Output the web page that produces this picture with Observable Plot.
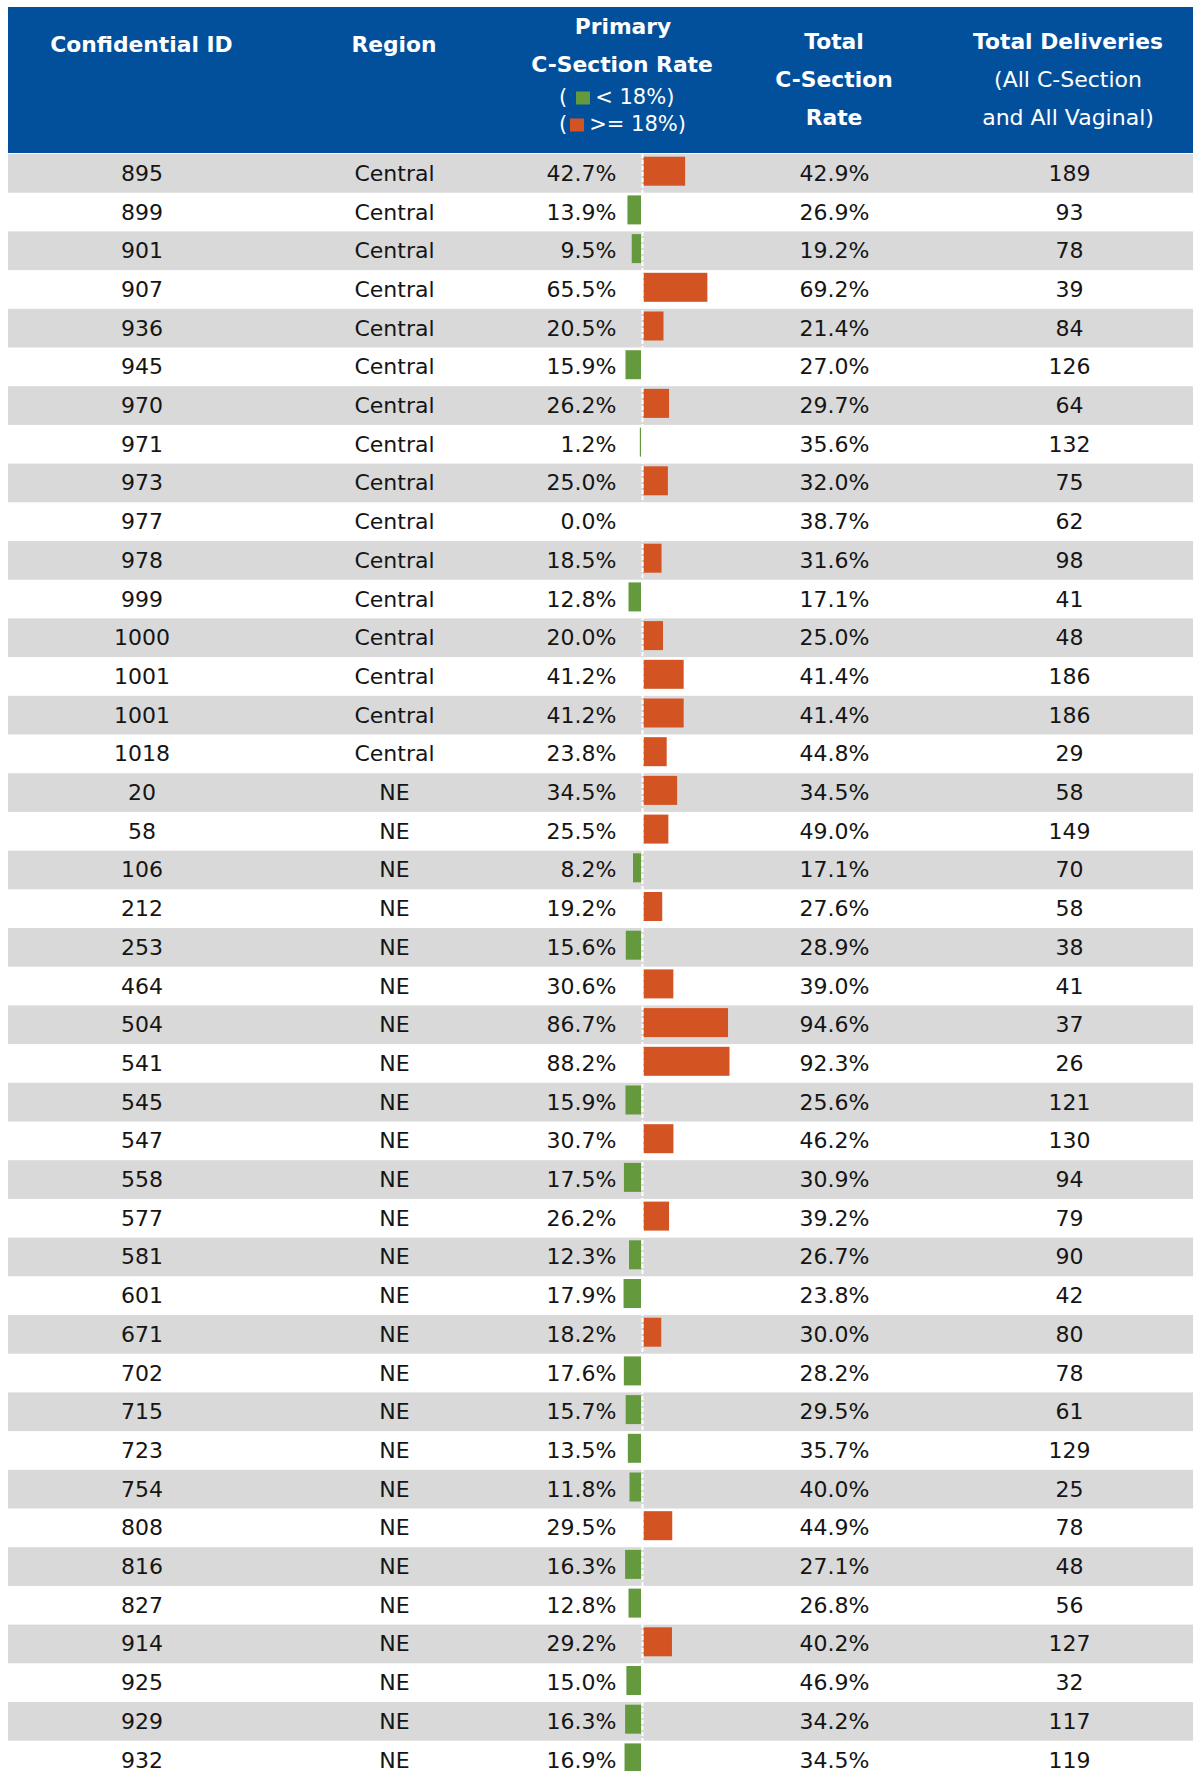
<!DOCTYPE html>
<html>
<head>
<meta charset="utf-8">
<script src="https://cdn.jsdelivr.net/npm/d3@7"></script>
<script src="https://cdn.jsdelivr.net/npm/@observablehq/plot@0.6"></script>
<style>
  html, body { margin: 0; padding: 0; background: #ffffff; }
  #page { position: relative; width: 1193px; height: 1771px; overflow: hidden; font-family: "DejaVu Sans", sans-serif; }
  #header { position: absolute; left: 8px; top: 7px; width: 1185px; height: 145.5px; background: #02509c; color: #ffffff; }
  .h { position: absolute; transform: translate(-50%, -50%); white-space: nowrap; line-height: 1; font-size: 21.8px; }
  .b { font-weight: bold; }
  .r { font-weight: normal; font-size: 22px; }
  .lg { position: absolute; transform: translate(0, -50%); white-space: nowrap; line-height: 1; font-size: 21px; font-weight: normal; }
  .sq { display: inline-block; width: 14px; height: 13px; vertical-align: -1px; margin: 0 5px 0 6px; }
  #chart { position: absolute; left: 8px; top: 154.3px; line-height: 0; }
</style>
</head>
<body>
<div id="page">
  <div id="header"></div>
  <div id="chart"></div>
</div>
<script>
// ---- data ----
const ids = [895, 899, 901, 907, 936, 945, 970, 971, 973, 977, 978, 999, 1000, 1001, 1001, 1018,
  20, 58, 106, 212, 253, 464, 504, 541, 545, 547, 558, 577, 581, 601, 671, 702, 715, 723, 754, 808, 816, 827, 914, 925, 929, 932];
const regions = ["Central","Central","Central","Central","Central","Central","Central","Central","Central","Central","Central","Central","Central","Central","Central","Central",
  "NE","NE","NE","NE","NE","NE","NE","NE","NE","NE","NE","NE","NE","NE","NE","NE","NE","NE","NE","NE","NE","NE","NE","NE","NE","NE"];
const primaryRate = [42.7, 13.9, 9.5, 65.5, 20.5, 15.9, 26.2, 1.2, 25.0, 0.0, 18.5, 12.8, 20.0, 41.2, 41.2, 23.8,
  34.5, 25.5, 8.2, 19.2, 15.6, 30.6, 86.7, 88.2, 15.9, 30.7, 17.5, 26.2, 12.3, 17.9, 18.2, 17.6, 15.7, 13.5, 11.8, 29.5, 16.3, 12.8, 29.2, 15.0, 16.3, 16.9];
const totalRate = [42.9, 26.9, 19.2, 69.2, 21.4, 27.0, 29.7, 35.6, 32.0, 38.7, 31.6, 17.1, 25.0, 41.4, 41.4, 44.8,
  34.5, 49.0, 17.1, 27.6, 28.9, 39.0, 94.6, 92.3, 25.6, 46.2, 30.9, 39.2, 26.7, 23.8, 30.0, 28.2, 29.5, 35.7, 40.0, 44.9, 27.1, 26.8, 40.2, 46.9, 34.2, 34.5];
const deliveries = [189, 93, 78, 39, 84, 126, 64, 132, 75, 62, 98, 41, 48, 186, 186, 29,
  58, 149, 70, 58, 38, 41, 37, 26, 121, 130, 94, 79, 90, 42, 80, 78, 61, 129, 25, 78, 48, 56, 127, 32, 117, 119];
const threshold = 18;
const headerLabels = {
  id: "Confidential ID",
  region: "Region",
  primary: ["Primary", "C-Section Rate"],
  legendLow: "< 18%)",
  legendHigh: ">= 18%)",
  total: ["Total", "C-Section", "Rate"],
  deliveries: ["Total Deliveries", "(All C-Section", "and All Vaginal)"]
};

// ---- styles ----
const GRAY = "#d9d9d9", ORANGE = "#d35322", GREEN = "#65993d", INK = "#151515";

// ---- header (HTML) ----
const header = document.getElementById("header");
function addH(text, x, y, cls) {
  const d = document.createElement("div");
  d.className = "h " + cls;
  d.style.left = x + "px"; d.style.top = y + "px";
  d.textContent = text;
  header.appendChild(d);
}
addH(headerLabels.id, 133.5, 38, "b");
addH(headerLabels.region, 386, 38, "b");
addH(headerLabels.primary[0], 615, 19.5, "b");
addH(headerLabels.primary[1], 614, 57.5, "b");
addH(headerLabels.total[0], 826, 34.5, "b");
addH(headerLabels.total[1], 826, 72.5, "b");
addH(headerLabels.total[2], 826, 110.5, "b");
addH(headerLabels.deliveries[0], 1060, 34.5, "b");
addH(headerLabels.deliveries[1], 1060, 72.5, "r");
addH(headerLabels.deliveries[2], 1060, 110.5, "r");
function addLegend(text, color, y, gapLeft) {
  const d = document.createElement("div");
  d.className = "lg";
  d.style.left = "551px"; d.style.top = y + "px";
  d.innerHTML = "(<span class='sq' style='background:" + color + ";margin-left:" + gapLeft + "px'></span>" + text;
  header.appendChild(d);
}
addLegend(headerLabels.legendLow, GREEN, 89.5, 9);
addLegend(headerLabels.legendHigh, ORANGE, 116.5, 3);

// ---- rows (Plot) ----
const rows = ids.map((id, i) => ({
  i, id, region: regions[i], p: primaryRate[i], t: totalRate[i], n: deliveries[i]
}));
const rowH = 38.7;
const W = 1185, H = 1771 - 154;
const pxPerPct = 0.975, baseX = 634;
const xDomain = [-baseX / pxPerPct, (W - baseX) / pxPerPct];

const txt = {fontSize: 22, fill: INK, frameAnchor: "left"};
const chart = Plot.plot({
  width: W,
  height: H,
  margin: 0,
  style: {fontFamily: "DejaVu Sans", background: "transparent", overflow: "hidden"},
  x: {domain: xDomain, range: [0, W], axis: null},
  y: {type: "band", domain: rows.map(d => d.i), range: [0, rows.length * rowH], padding: 0, round: false, axis: null},
  marks: [
    Plot.barX(rows.filter(d => d.i % 2 === 0), {y: "i", x1: xDomain[0], x2: xDomain[1], fill: GRAY}),
    Plot.barX(rows.filter(d => d.p >= threshold), {y: "i", x1: 0, x2: "p", fill: ORANGE, insetTop: 2.7, insetBottom: 7, dx: 1.5}),
    Plot.barX(rows.filter(d => d.p < threshold && d.p > 0), {y: "i", x1: d => -d.p, x2: 0, fill: GREEN, insetTop: 2.7, insetBottom: 7, dx: -1}),
    Plot.ruleX([0], {stroke: "#ffffff", strokeWidth: 2, strokeDasharray: "4,2"}),
    Plot.text(rows, {...txt, y: "i", text: d => String(d.id), dx: 133.5, textAnchor: "middle"}),
    Plot.text(rows, {...txt, y: "i", text: "region", dx: 386, textAnchor: "middle"}),
    Plot.text(rows, {...txt, y: "i", text: d => d.p.toFixed(1) + "%", dx: 608, textAnchor: "end"}),
    Plot.text(rows, {...txt, y: "i", text: d => d.t.toFixed(1) + "%", dx: 826, textAnchor: "middle"}),
    Plot.text(rows, {...txt, y: "i", text: d => String(d.n), dx: 1061, textAnchor: "middle"})
  ]
});
document.getElementById("chart").appendChild(chart);
</script>
</body>
</html>
